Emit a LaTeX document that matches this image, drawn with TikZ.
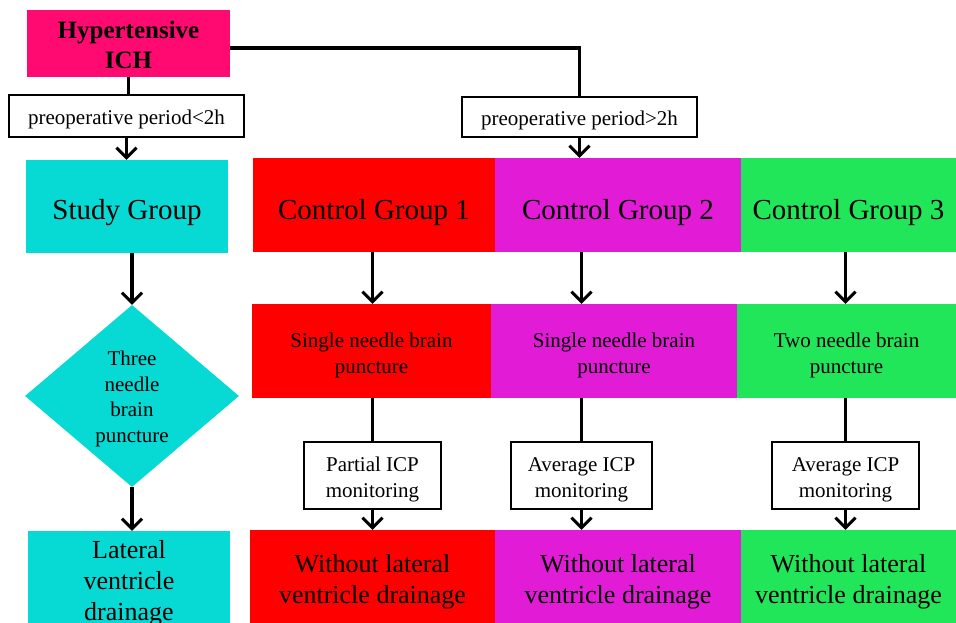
\documentclass[tikz,border=0pt]{standalone}
\usepackage{fontspec}
\setmainfont{Liberation Serif}
\usetikzlibrary{shapes.geometric,arrows.meta}

\definecolor{ichpink}{RGB}{255,10,112}
\definecolor{studycyan}{RGB}{7,217,212}
\definecolor{ctrlred}{RGB}{255,0,0}
\definecolor{ctrlmag}{RGB}{226,28,214}
\definecolor{ctrlgreen}{RGB}{34,230,90}

\newcommand{\fs}[2]{\fontsize{#1}{#2}\selectfont}
% strut on the first line pushes the text down a little
\newcommand{\tstrut}[1]{\rule{0pt}{#1pt}}

\begin{document}
\begin{tikzpicture}[x=1pt,y=-1pt,
  box/.style={rectangle,inner sep=0pt,align=center},
  whitebox/.style={box,draw=black,line width=1.3pt,fill=white},
  arr/.style={line width=3.6pt,-{Straight Barb[length=10pt,width=20pt,line width=3pt]}},
  lin/.style={line width=3.6pt}]
\useasboundingbox (0,0) rectangle (956,623);
\clip (0,0) rectangle (956,623);

% Top of the chart
\node[box,fill=ichpink,minimum width=203pt,minimum height=67pt,font=\fs{25}{30}\bfseries]
  (ich) at (128.5,43.5) {\tstrut{20.5}Hypertensive\\ICH};
\node[whitebox,minimum width=235pt,minimum height=42pt,font=\fs{21}{25}]
  (pre1) at (126.5,116) {\tstrut{20.7}preoperative period<2h};
\node[whitebox,minimum width=235pt,minimum height=40pt,font=\fs{21}{25}]
  (pre2) at (579.5,117) {\tstrut{20.7}preoperative period>2h};

% Study group column
\node[box,fill=studycyan,minimum width=202pt,minimum height=93pt,font=\fs{29}{34}]
  (study) at (127,206.5) {\tstrut{32.3}Study Group};
\node[diamond,fill=studycyan,inner sep=0pt,minimum width=214pt,minimum height=182pt,
  align=center,font=\fs{21}{25.7}]
  (dia) at (132,396) {\tstrut{20.7}Three\\needle\\brain\\puncture};
\node[box,fill=studycyan,minimum width=202pt,minimum height=98pt,font=\fs{26}{31}]
  (lateral) at (129,580) {\tstrut{24.2}Lateral\\ventricle\\drainage};

% Control groups
\node[box,fill=ctrlred,minimum width=242pt,minimum height=94pt,font=\fs{29}{34}]
  (cg1) at (374,205) {\tstrut{34.3}Control Group 1};
\node[box,fill=ctrlmag,minimum width=246pt,minimum height=94pt,font=\fs{29}{34}]
  (cg2) at (618,205) {\tstrut{34.3}Control Group 2};
\node[box,fill=ctrlgreen,minimum width=215pt,minimum height=94pt,font=\fs{29}{34}]
  (cg3) at (848.5,205) {\tstrut{34.3}Control Group 3};

\node[box,fill=ctrlred,minimum width=239pt,minimum height=94pt,font=\fs{21}{26}]
  (sn1) at (371.5,351) {\tstrut{22.7}Single needle brain\\puncture};
\node[box,fill=ctrlmag,minimum width=246pt,minimum height=94pt,font=\fs{21}{26}]
  (sn2) at (614,351) {\tstrut{22.7}Single needle brain\\puncture};
\node[box,fill=ctrlgreen,minimum width=219pt,minimum height=94pt,font=\fs{21}{26}]
  (tn3) at (846.5,351) {\tstrut{22.7}Two needle brain\\puncture};

\node[whitebox,minimum width=137pt,minimum height=67pt,font=\fs{21}{26}]
  (icp1) at (372.5,475.5) {\tstrut{22.7}Partial ICP\\monitoring};
\node[whitebox,minimum width=141pt,minimum height=67pt,font=\fs{21}{26}]
  (icp2) at (581.5,475.5) {\tstrut{22.7}Average ICP\\monitoring};
\node[whitebox,minimum width=147pt,minimum height=67pt,font=\fs{21}{26}]
  (icp3) at (845.5,475.5) {\tstrut{22.7}Average ICP\\monitoring};

\node[box,fill=ctrlred,minimum width=245pt,minimum height=96pt,font=\fs{26}{31}]
  (wo1) at (372.5,578) {\tstrut{26.2}Without lateral\\ventricle drainage};
\node[box,fill=ctrlmag,minimum width=246pt,minimum height=96pt,font=\fs{26}{31}]
  (wo2) at (618,578) {\tstrut{26.2}Without lateral\\ventricle drainage};
\node[box,fill=ctrlgreen,minimum width=215pt,minimum height=96pt,font=\fs{26}{31}]
  (wo3) at (848.5,578) {\tstrut{26.2}Without lateral\\ventricle drainage};

% Connectors
\draw[lin] (ich.south) -- (ich.south |- pre1.north);
\draw[lin] ([yshift=-4.5pt]ich.east) -| (pre2.north);
\draw[arr] (pre1.south) -- (pre1.south |- study.north);
\draw[arr] (pre2.south) -- (pre2.south |- cg2.north);
\draw[arr] (dia.north |- study.south) -- (dia.north);
\draw[arr] (dia.south) -- (dia.south |- lateral.north);

\draw[arr] (icp1 |- cg1.south) -- (icp1 |- sn1.north);
\draw[arr] (icp2 |- cg2.south) -- (icp2 |- sn2.north);
\draw[arr] (icp3 |- cg3.south) -- (icp3 |- tn3.north);
\foreach \i/\s in {1/sn1,2/sn2,3/tn3}
{
  \draw[lin] (icp\i.north |- \s.south) -- (icp\i.north);
  \draw[arr] (icp\i.south) -- (icp\i.south |- wo\i.north);
}
\end{tikzpicture}
\end{document}
